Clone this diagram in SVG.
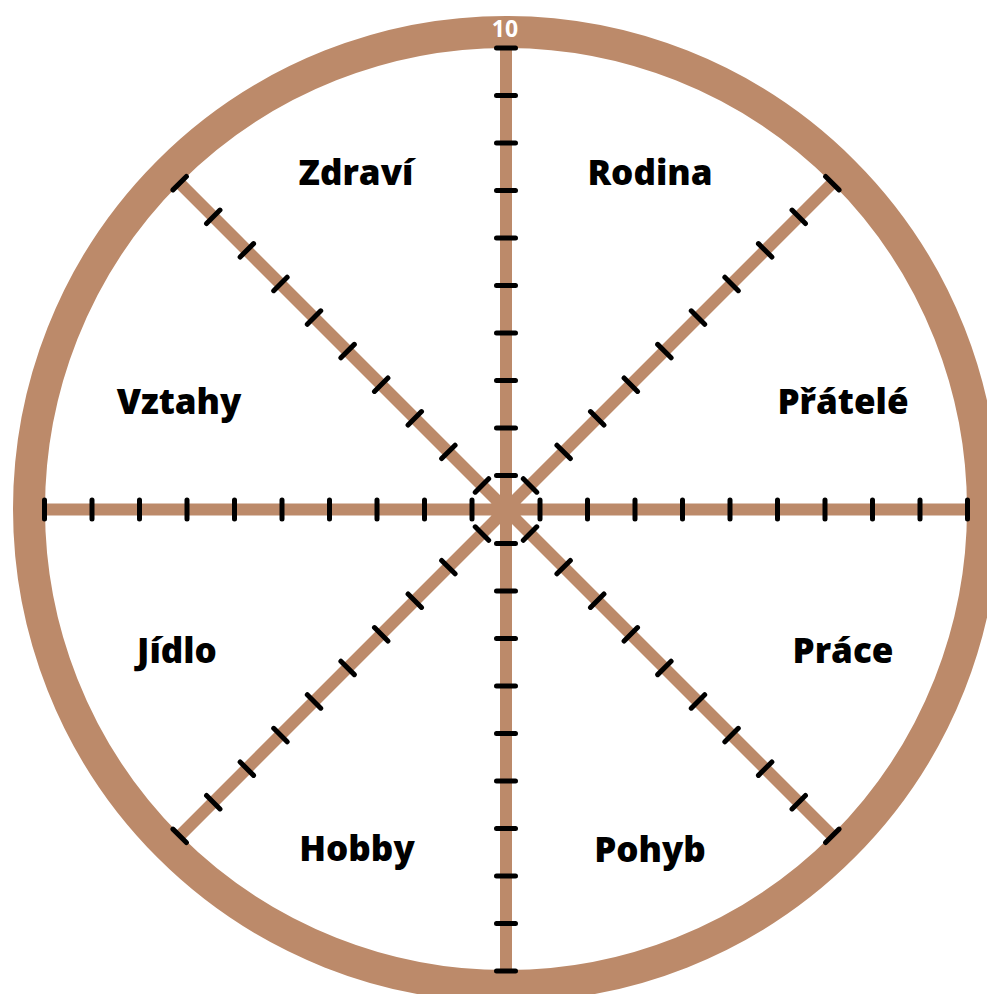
<svg xmlns="http://www.w3.org/2000/svg" xmlns:xlink="http://www.w3.org/1999/xlink" width="987" height="994" viewBox="0 0 987 994">
<style>
.ring{fill:none;stroke:#BC8A6A;stroke-width:32}
.spoke{stroke:#BC8A6A;stroke-width:12;fill:none}
.tick{stroke:#000;stroke-width:5;stroke-linecap:round;fill:none}
.lbl{font-family:"Open Sans","Liberation Sans",sans-serif;font-weight:800;font-size:35px;fill:#000;text-anchor:middle}
.num{font-family:"Open Sans","Liberation Sans",sans-serif;font-weight:700;font-size:23px;fill:#fff;text-anchor:middle}
</style>
<defs>
<path id="ticks" class="tick" d="M34,-9.5v19M81.5,-9.5v19M129,-9.5v19M176.5,-9.5v19M224,-9.5v19M271.5,-9.5v19M319,-9.5v19M366.5,-9.5v19M414,-9.5v19M461.5,-9.5v19"/>
</defs>
<rect width="987" height="994" fill="#fff"/>
<g id="wheel">
<circle class="ring" cx="506" cy="509" r="477"/>
<text class="num" x="505" y="37">10</text>
</g>
<g id="connectors">
<g transform="translate(506,509.5)">
<path class="spoke" d="M-462,0H462M0,-462V462M-326.7,-326.7L326.7,326.7M-326.7,326.7L326.7,-326.7"/>
<use xlink:href="#ticks"/>
<use xlink:href="#ticks" transform="rotate(45)"/>
<use xlink:href="#ticks" transform="rotate(90)"/>
<use xlink:href="#ticks" transform="rotate(135)"/>
<use xlink:href="#ticks" transform="rotate(180)"/>
<use xlink:href="#ticks" transform="rotate(225)"/>
<use xlink:href="#ticks" transform="rotate(270)"/>
<use xlink:href="#ticks" transform="rotate(315)"/>
</g>
</g>
<g id="zdravi"><text class="lbl" x="356" y="185">Zdraví</text></g>
<g id="rodina"><text class="lbl" x="650" y="185">Rodina</text></g>
<g id="vztahy"><text class="lbl" x="179" y="414">Vztahy</text></g>
<g id="pratele"><text class="lbl" x="843" y="414">Přátelé</text></g>
<g id="jidlo"><text class="lbl" x="177" y="663">Jídlo</text></g>
<g id="prace"><text class="lbl" x="843" y="663">Práce</text></g>
<g id="hobby"><text class="lbl" x="357" y="861">Hobby</text></g>
<g id="pohyb"><text class="lbl" x="650" y="862">Pohyb</text></g>
</svg>
